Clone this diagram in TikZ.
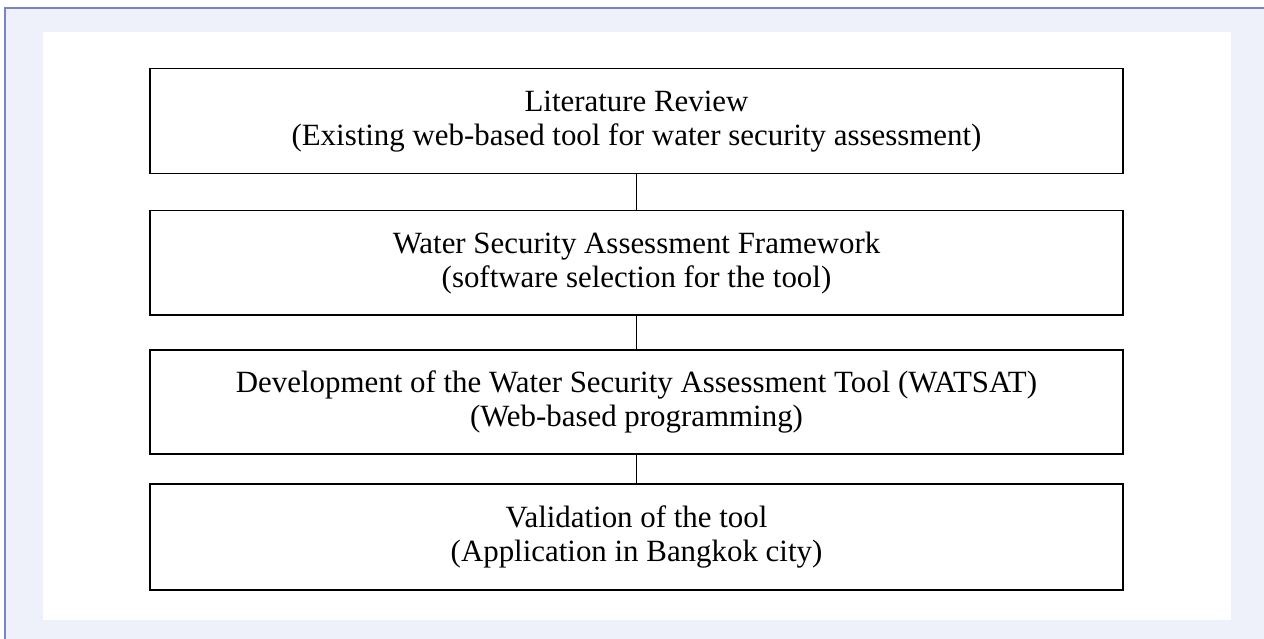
\documentclass[tikz,border=0pt]{standalone}
\usepackage{fontspec}
\setmainfont{Liberation Serif}
\definecolor{bgpanel}{HTML}{EEF1F9}
\definecolor{frameblue}{HTML}{7B83C6}
\begin{document}
\begin{tikzpicture}[x=1pt,y=-1pt,
  stepbox/.style={draw=black,line width=1.5pt,minimum width=973pt,inner sep=0pt,align=center,font=\fontsize{30.9}{34}\selectfont,anchor=north},
  link/.style={draw=black,line width=1.5pt}]
\useasboundingbox (0,0) rectangle (1264,639);
\fill[bgpanel] (5,8) rectangle (1264,639);
\draw[frameblue,line width=1.2pt] (5,639) -- (5,8) -- (1264,8);
\fill[white] (43,32) rectangle (1231,620);
\node[stepbox,minimum height=105pt] (s1) at (636.5,68) {Literature Review\\(Existing web-based tool for water security assessment)};
\node[stepbox,minimum height=104pt] (s2) at (636.5,210) {Water Security Assessment Framework\\(software selection for the tool)};
\node[stepbox,minimum height=104pt] (s3) at (636.5,349) {Development of the Water Security Assessment Tool (WATSAT)\\(Web-based programming)};
\node[stepbox,minimum height=106pt] (s4) at (636.5,483) {Validation of the tool\\(Application in Bangkok city)};
\draw[link] (s1.south) -- (s2.north);
\draw[link] (s2.south) -- (s3.north);
\draw[link] (s3.south) -- (s4.north);
\end{tikzpicture}
\end{document}
